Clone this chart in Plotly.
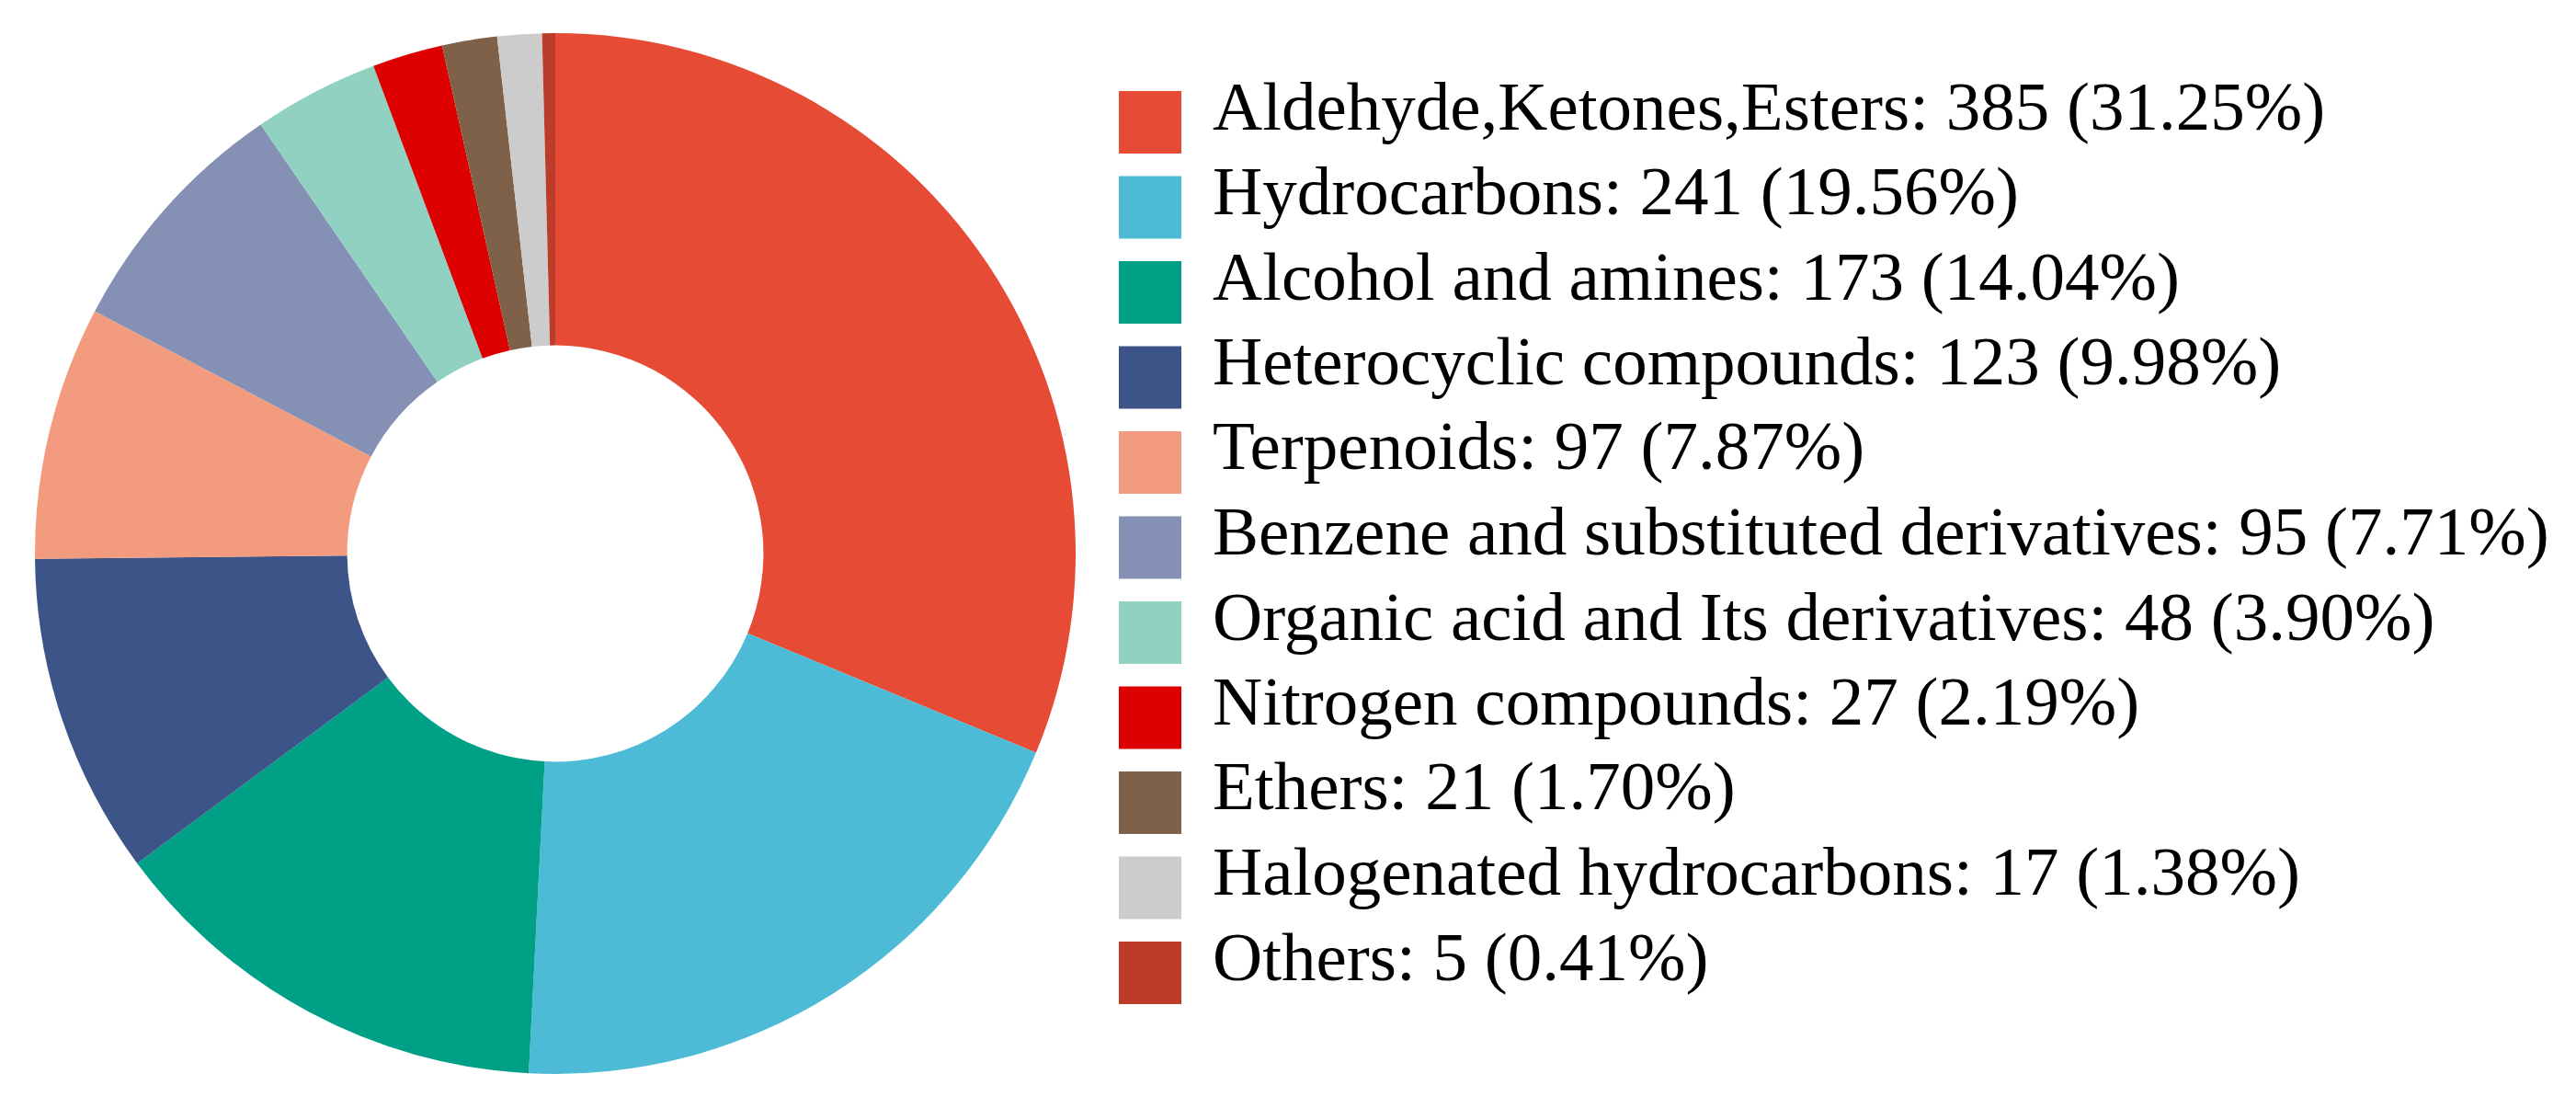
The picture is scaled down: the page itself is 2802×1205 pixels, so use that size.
import plotly.graph_objects as go

labels = ["Aldehyde,Ketones,Esters", "Hydrocarbons", "Alcohol and amines",
          "Heterocyclic compounds", "Terpenoids", "Benzene and substituted derivatives",
          "Organic acid and Its derivatives", "Nitrogen compounds", "Ethers",
          "Halogenated hydrocarbons", "Others"]
counts = [385, 241, 173, 123, 97, 95, 48, 27, 21, 17, 5]
colors = ["#E64B35", "#4DBBD5", "#00A087", "#3C5488", "#F39B7F", "#8491B4",
          "#91D1C2", "#DC0000", "#7E6148", "#CCCCCC", "#BC3C29"]

W, H = 2802, 1205
total = sum(counts)

fig = go.Figure()
fig.add_trace(go.Pie(
    labels=labels, values=counts, hole=0.40,
    sort=False, direction='clockwise', rotation=0,
    marker=dict(colors=colors, line=dict(width=0)),
    textinfo='none',
    domain=dict(x=[30/W, 1162/W], y=[45/H, 1177/H]),
))

# legend drawn by hand so the swatches can be large squares
x0, y_first, step, sw = 1209, 125, 92.5, 68
for i, (lab, n, c) in enumerate(zip(labels, counts, colors)):
    yc = y_first + i*step
    fig.add_shape(type='rect', xref='paper', yref='paper',
                  x0=x0/W, x1=(x0+sw)/W,
                  y0=1-(yc-sw/2)/H, y1=1-(yc+sw/2)/H,
                  fillcolor=c, line=dict(width=0))
    fig.add_annotation(xref='paper', yref='paper', x=1309/W, y=1-(yc-18)/H,
                       xanchor='left', yanchor='middle', showarrow=False,
                       text=f"{lab}: {n} ({n/total*100:.2f}%)",
                       font=dict(family='Liberation Serif', size=75, color='black'))

fig.update_layout(
    width=W, height=H,
    margin=dict(l=0, r=0, t=0, b=0),
    showlegend=False,
    paper_bgcolor='white',
    plot_bgcolor='white',
)

fig.write_html("out.html")
